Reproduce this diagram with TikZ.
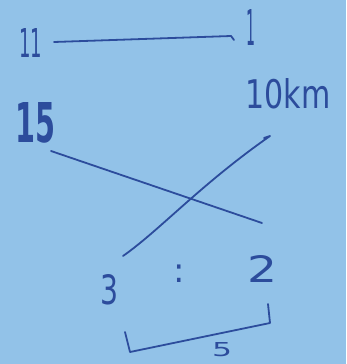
\documentclass[tikz,border=0pt]{standalone}
\usepackage{fontspec}
\setmainfont{DejaVu Sans}
\definecolor{paper}{HTML}{92C2E8}
\definecolor{ink}{HTML}{2C4C9C}
\newcommand{\hw}[3]{\resizebox{#1pt}{#2pt}{#3}}
\begin{document}
\begin{tikzpicture}[x=1pt,y=-1pt,
  pen/.style={draw=ink,line width=1.8pt,line cap=round,line join=round},
  hand/.style={text=ink,inner sep=0pt,font=\fontsize{20}{20}\selectfont}]
\fill[paper] (0,0) rectangle (346,364);
\useasboundingbox (0,0) rectangle (346,364);
% texts
\node[hand] (eleven) at (31,43) {\hw{23}{29}{11}};
\node[hand] (one) at (251,27) {\hw{9}{36}{1}};
\node[hand,font=\fontsize{20}{20}\selectfont\bfseries] (fifteen) at (35,123) {\hw{40}{40}{15}};
\node[hand] (km) at (288,94) {\hw{85}{30}{10km}};
\node[hand] (three) at (109,290) {\hw{18}{30}{3}};
\node[hand,font=\fontsize{34}{34}\selectfont] (colon) at (179,274) {:};
\node[hand] (two) at (262,269) {\hw{30}{27}{2}};
\node[hand] (five) at (222,350) {\hw{20}{14}{5}};
% coordinates
\coordinate (a1) at (54,42);
\coordinate (a2) at (231,36);
\coordinate (b1) at (51,151);
\coordinate (b2) at (262,223);
\coordinate (c1) at (270,136);
\coordinate (c2) at (123,256);
\coordinate (d1) at (125,332);
\coordinate (d2) at (130,352);
\coordinate (d3) at (270,323);
\coordinate (d4) at (268,304);
% strokes
\draw[pen] (a1) -- (a2) -- ++(3,4);
\draw[pen] (b1) -- (b2);
\draw[pen] (c1) -- ++(-6,2) (c1) .. controls (200,185) and (160,230) .. (c2);
\draw[pen] (d1) -- (d2) -- (d3) -- (d4);
\end{tikzpicture}
\end{document}
